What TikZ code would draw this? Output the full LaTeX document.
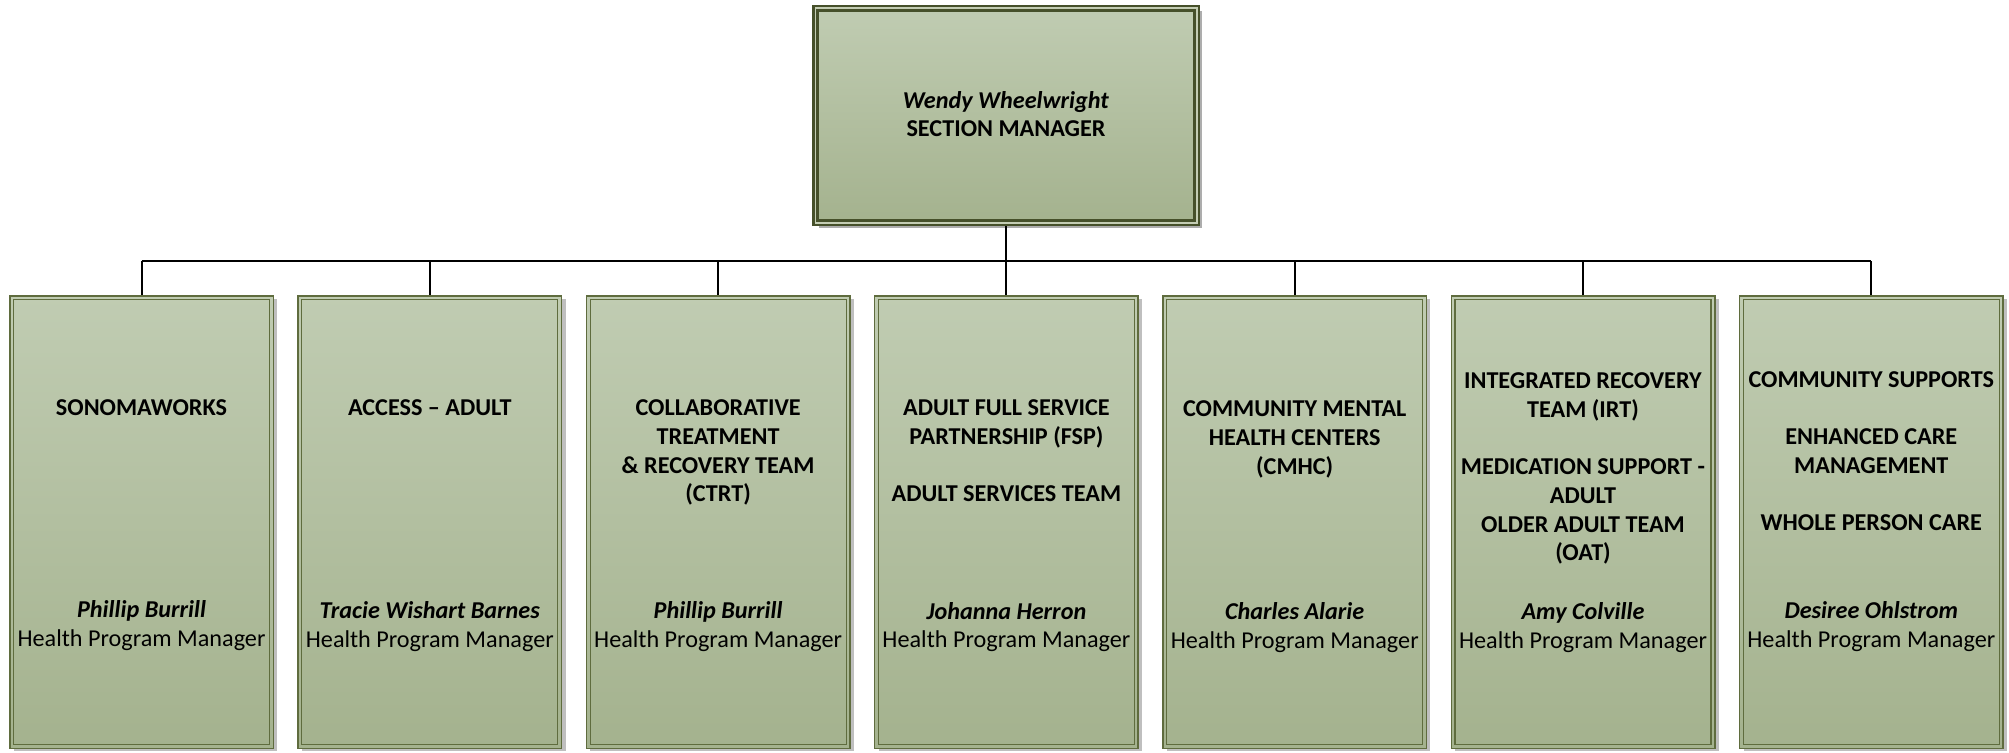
\documentclass[tikz,border=0pt]{standalone}
\usepackage{fontspec}
\setmainfont{Carlito}
\usetikzlibrary{shadows}
\definecolor{fillTop}{HTML}{C0CCB2}
\definecolor{fillBot}{HTML}{A4B28E}
\definecolor{topLine}{HTML}{46502A}
\definecolor{boxLine}{HTML}{5F6C3E}
\definecolor{gapLine}{HTML}{C4CDB4}
\newcommand\tstrut{\rule{0pt}{20pt}}
\newcommand\boxfont{\fontsize{24.2}{28.7}\selectfont}
\begin{document}
\begin{tikzpicture}[x=1pt,y=-1pt,
  headbox/.style={rectangle, draw=topLine, line width=5pt, top color=fillTop, bottom color=fillBot,
    minimum width=383pt, minimum height=216pt, inner sep=0pt,
    drop shadow={shadow xshift=4pt, shadow yshift=-4pt, fill=black!32, opacity=1}},
  childbox/.style={rectangle, draw=boxLine, line width=1.5pt, top color=fillTop, bottom color=fillBot,
    minimum width=263.5pt, minimum height=452.5pt, inner sep=0pt,
    drop shadow={shadow xshift=4pt, shadow yshift=-3pt, fill=black!25, opacity=1}},
  headgap/.style={draw=gapLine, line width=1.5pt},
  headinner/.style={draw=topLine, line width=3pt},
  childinner/.style={draw=boxLine, line width=1.2pt},
  lbl/.style={anchor=north, align=center, inner sep=0pt, font=\boxfont},
  conn/.style={draw=black, line width=2pt}
]
\useasboundingbox (0,0) rectangle (2009,752);

% head
\node[headbox] (head) at (1006,115.5) {};
\draw[headgap] ([shift={(3.25,3.25)}]head.north west) rectangle ([shift={(-3.25,-3.25)}]head.south east);
\draw[headinner] ([shift={(5.5,5.5)}]head.north west) rectangle ([shift={(-5.5,-5.5)}]head.south east);
\node[lbl] (headtxt) at (1006,88) {\tstrut\textbf{\textit{Wendy Wheelwright}}\\ \textbf{SECTION MANAGER}};

% children
\foreach \i in {1,...,7} {
  \pgfmathsetmacro{\cx}{141.5+288.3*(\i-1)}
  \node[childbox] (c\i) at (\cx,522) {};
  \draw[childinner] ([shift={(4.5,4.5)}]c\i.north west) rectangle ([shift={(-4.5,-4.5)}]c\i.south east);
}

% connectors
\coordinate (bus) at (1006,261);
\draw[conn] (head.south) -- (bus);
\draw[conn] (c1.north |- bus) -- (c7.north |- bus);
\foreach \i in {1,...,7} {
  \draw[conn] (c\i.north |- bus) -- (c\i.north);
}

% titles
\node[lbl] (t1) at (c1.center |- 0,395.4) {\tstrut\textbf{SONOMAWORKS}};
\node[lbl] (t2) at (c2.center |- 0,395.4) {\tstrut\textbf{ACCESS – ADULT}};
\node[lbl] (t3) at (c3.center |- 0,395.4) {\tstrut\textbf{COLLABORATIVE}\\ \textbf{TREATMENT}\\ \textbf{\& RECOVERY TEAM}\\ \textbf{(CTRT)}};
\node[lbl] (t4) at (c4.center |- 0,395.4) {\tstrut\textbf{ADULT FULL SERVICE}\\ \textbf{PARTNERSHIP (FSP)}\\ ~\\ \textbf{ADULT SERVICES TEAM}};
\node[lbl] (t5) at (c5.center |- 0,396.5) {\tstrut\textbf{COMMUNITY MENTAL}\\ \textbf{HEALTH CENTERS}\\ \textbf{(CMHC)}};
\node[lbl] (t6) at (c6.center |- 0,368.4) {\tstrut\textbf{INTEGRATED RECOVERY}\\ \textbf{TEAM (IRT)}\\ ~\\ \textbf{MEDICATION SUPPORT -}\\ \textbf{ADULT}\\ \textbf{OLDER ADULT TEAM}\\ \textbf{(OAT)}};
\node[lbl] (t7) at (c7.center |- 0,367.2) {\tstrut\textbf{COMMUNITY SUPPORTS}\\ ~\\ \textbf{ENHANCED CARE}\\ \textbf{MANAGEMENT}\\ ~\\ \textbf{WHOLE PERSON CARE}};

% persons
\node[lbl] (p1) at (c1.center |- 0,597.5) {\tstrut\textbf{\textit{Phillip Burrill}}\\ Health Program Manager};
\node[lbl] (p2) at (c2.center |- 0,598.5) {\tstrut\textbf{\textit{Tracie Wishart Barnes}}\\ Health Program Manager};
\node[lbl] (p3) at (c3.center |- 0,598.5) {\tstrut\textbf{\textit{Phillip Burrill}}\\ Health Program Manager};
\node[lbl] (p4) at (c4.center |- 0,599) {\tstrut\textbf{\textit{Johanna Herron}}\\ Health Program Manager};
\node[lbl] (p5) at (c5.center |- 0,599.5) {\tstrut\textbf{\textit{Charles Alarie}}\\ Health Program Manager};
\node[lbl] (p6) at (c6.center |- 0,599.5) {\tstrut\textbf{\textit{Amy Colville}}\\ Health Program Manager};
\node[lbl] (p7) at (c7.center |- 0,598.5) {\tstrut\textbf{\textit{Desiree Ohlstrom}}\\ Health Program Manager};
\end{tikzpicture}
\end{document}
